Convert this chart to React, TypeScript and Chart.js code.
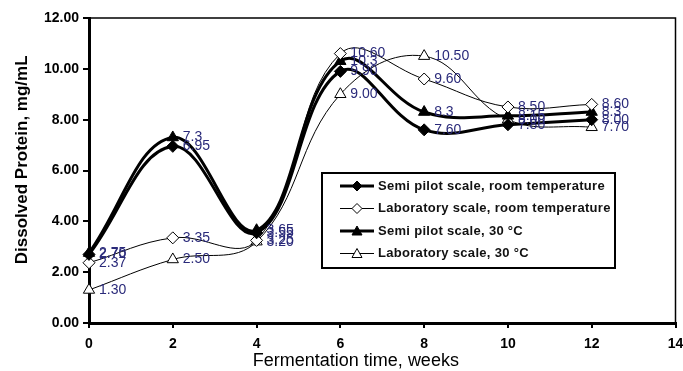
import React, { useEffect, useRef } from 'react';
import { Chart, registerables } from 'chart.js';

Chart.register(...registerables);

const weeks = [0, 2, 4, 6, 8, 10, 12];
const semipilotRoom = [2.7, 6.95, 3.55, 9.9, 7.6, 7.8, 8.0];
const labRoom = [2.37, 3.35, 3.25, 10.6, 9.6, 8.5, 8.6];
const semipilot30 = [2.75, 7.3, 3.65, 10.3, 8.3, 8.15, 8.3];
const lab30 = [1.3, 2.5, 3.2, 9.0, 10.5, 8.0, 7.7];

const seriesNames = [
  'Semi pilot scale, room temperature',
  'Laboratory scale, room temperature',
  'Semi pilot scale, 30 °C',
  'Laboratory scale, 30 °C',
];
const xTitle = 'Fermentation time, weeks';
const yTitle = 'Dissolved Protein, mg/mL';
const xMin = 0, xMax = 14, xStep = 2;
const yMin = 0, yMax = 12, yStep = 2;

const FONT = '"Liberation Sans", Arial, sans-serif';
const LABEL_COLOR = '#2a2a7a';

type Style = { filled: boolean; style: string; width: number; radius: number; fmt: (v: number) => string };
const styles: Style[] = [
  { filled: true, style: 'rectRot', width: 3, radius: 6, fmt: (v) => v.toFixed(2) },
  { filled: false, style: 'rectRot', width: 1, radius: 6, fmt: (v) => v.toFixed(2) },
  { filled: true, style: 'triangle', width: 3, radius: 6.5, fmt: (v) => String(v) },
  { filled: false, style: 'triangle', width: 1, radius: 6.5, fmt: (v) => v.toFixed(2) },
];
const seriesValues = [semipilotRoom, labRoom, semipilot30, lab30];

const framePlugin = {
  id: 'frame',
  beforeDatasetsDraw(chart: any) {
    const { ctx, chartArea: a } = chart;
    ctx.save();
    ctx.strokeStyle = '#000';
    ctx.lineWidth = 1.5;
    ctx.beginPath();
    ctx.moveTo(a.left, a.top);
    ctx.lineTo(a.right, a.top);
    ctx.lineTo(a.right, a.bottom);
    ctx.stroke();
    ctx.restore();
  },
};

const titlePlugin = {
  id: 'axisTitles',
  afterDraw(chart: any) {
    const { ctx, chartArea: a } = chart;
    ctx.save();
    ctx.fillStyle = '#000';
    ctx.textAlign = 'center';
    ctx.textBaseline = 'middle';
    ctx.font = `18px ${FONT}`;
    ctx.fillText(xTitle, a.left + (a.right - a.left) * 0.455, a.bottom + 38);
    ctx.translate(22, a.top + (a.bottom - a.top) * 0.465);
    ctx.rotate(-Math.PI / 2);
    ctx.font = `bold 17px ${FONT}`;
    ctx.fillText(yTitle, 0, 0);
    ctx.restore();
  },
};

const labelPlugin = {
  id: 'valueLabels',
  afterDatasetsDraw(chart: any) {
    const { ctx } = chart;
    ctx.save();
    ctx.font = `14px ${FONT}`;
    ctx.fillStyle = LABEL_COLOR;
    ctx.textAlign = 'left';
    ctx.textBaseline = 'middle';
    chart.data.datasets.forEach((ds: any, di: number) => {
      const meta = chart.getDatasetMeta(di);
      meta.data.forEach((pt: any, i: number) => {
        const v = ds.data[i].y;
        ctx.fillText(styles[di].fmt(v), pt.x + 10, pt.y);
      });
    });
    ctx.restore();
  },
};

const legendPlugin = {
  id: 'boxLegend',
  afterDraw(chart: any) {
    const { ctx, chartArea: a } = chart;
    const left = a.left + 233;
    const top = a.top + 155;
    const w = 293;
    const h = 95;
    ctx.save();
    ctx.fillStyle = '#fff';
    ctx.fillRect(left, top, w, h);
    ctx.strokeStyle = '#000';
    ctx.lineWidth = 2;
    ctx.strokeRect(left, top, w, h);
    ctx.font = `bold 13px ${FONT}`;
    (ctx as any).letterSpacing = '0.3px';
    ctx.textBaseline = 'middle';
    ctx.textAlign = 'left';
    seriesNames.forEach((name, i) => {
      const y = top + 13 + i * 22.5;
      const st = styles[i];
      ctx.strokeStyle = '#000';
      ctx.lineWidth = st.width;
      ctx.beginPath();
      ctx.moveTo(left + 18, y);
      ctx.lineTo(left + 52, y);
      ctx.stroke();
      ctx.lineWidth = 1;
      ctx.fillStyle = st.filled ? '#000' : '#fff';
      ctx.beginPath();
      const cx = left + 35;
      const r = 5;
      if (st.style === 'rectRot') {
        ctx.moveTo(cx, y - r);
        ctx.lineTo(cx + r, y);
        ctx.lineTo(cx, y + r);
        ctx.lineTo(cx - r, y);
      } else {
        ctx.moveTo(cx, y - r);
        ctx.lineTo(cx + r, y + r * 0.8);
        ctx.lineTo(cx - r, y + r * 0.8);
      }
      ctx.closePath();
      ctx.fill();
      ctx.stroke();
      ctx.fillStyle = '#111';
      ctx.fillText(name, left + 56, y);
    });
    ctx.restore();
  },
};

export default function App() {
  const ref = useRef<HTMLCanvasElement | null>(null);
  useEffect(() => {
    if (!ref.current) return;
    const datasets = seriesValues.map((vals, i) => {
      const st = styles[i];
      return {
        label: seriesNames[i],
        data: weeks.map((w, j) => ({ x: w, y: vals[j] })),
        borderColor: '#000',
        borderWidth: st.width,
        backgroundColor: st.filled ? '#000' : '#fff',
        pointStyle: st.style,
        pointRadius: st.radius,
        pointBorderWidth: 1,
        pointBorderColor: '#000',
        pointBackgroundColor: st.filled ? '#000' : '#fff',
        tension: 0.4,
        fill: false,
        clip: false,
      };
    });
    const chart = new Chart(ref.current, {
      type: 'line',
      data: { datasets } as any,
      options: {
        responsive: false,
        animation: false,
        layout: { padding: { top: 18, right: 6, left: 0, bottom: 0 } },
        plugins: { legend: { display: false }, tooltip: { enabled: false } },
        scales: {
          x: {
            type: 'linear',
            min: xMin,
            max: xMax,
            afterFit: (s: any) => { s.height = 48; s.paddingLeft = 0; s.paddingRight = 0; },
            ticks: { stepSize: xStep, color: '#000', font: { family: FONT, size: 14, weight: 'bold' }, padding: 8 },
            grid: { drawOnChartArea: false, drawTicks: true, tickLength: 5, color: '#000', lineWidth: 2 },
            border: { display: true, color: '#000', width: 3 },
            title: { display: false },
          },
          y: {
            type: 'linear',
            min: yMin,
            max: yMax,
            afterFit: (s: any) => { s.width = 89; s.paddingTop = 0; s.paddingBottom = 0; },
            ticks: { stepSize: yStep, color: '#000', font: { family: FONT, size: 14, weight: 'bold' }, padding: 4, callback: (v: any) => Number(v).toFixed(2) },
            grid: { drawOnChartArea: false, drawTicks: true, tickLength: 6, color: '#000', lineWidth: 2 },
            border: { display: true, color: '#000', width: 3 },
            title: { display: false },
          },
        },
      } as any,
      plugins: [framePlugin, labelPlugin, legendPlugin, titlePlugin],
    });
    return () => chart.destroy();
  }, []);
  return (
    <div style={{ position: 'absolute', left: 0, top: 0, width: 683, height: 371, background: '#fff' }}>
      <canvas ref={ref} width={683} height={371} />
    </div>
  );
}
